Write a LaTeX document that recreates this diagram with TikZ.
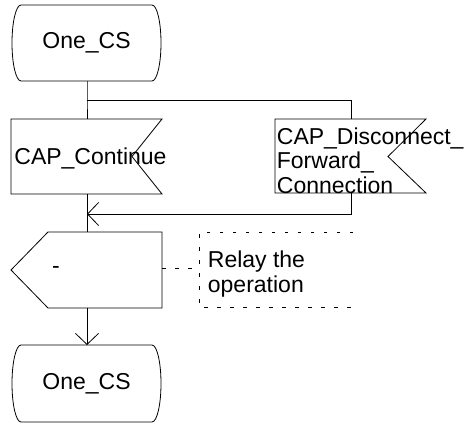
\documentclass[tikz,border=0pt]{standalone}
\usepackage{fontspec}
\setmainfont{Liberation Sans}
\usetikzlibrary{arrows.meta}
\begin{document}
\begin{tikzpicture}[x=1pt,y=1pt,
  line width=0.8pt,
  lbl/.style={inner sep=0pt, font=\fontsize{23}{24.5}\selectfont},
  flow/.style={draw, line width=0.8pt},
  arr/.style={flow, -{Straight Barb[length=11pt,width=23pt,line width=0.8pt]}},
  cmt/.style={draw, line width=0.8pt, dash pattern=on 3.5pt off 9.5pt},
]
\useasboundingbox (0,0) rectangle (468,424);

% top state
\draw (21,419) -- (152,419) arc[start angle=90,end angle=-90,x radius=9,y radius=38]
      -- (21,343) arc[start angle=270,end angle=90,x radius=9,y radius=38] -- cycle;
\node[lbl] (s1) at (86.5,381) {One\_CS};
\coordinate (s1b) at (87,343);
\coordinate (br) at (87,324);
\coordinate (brR) at (351,324);

% CAP_Continue input
\draw (11,305) -- (162,305) -- (132,267.5) -- (162,230) -- (11,230) -- cycle;
\node[lbl, anchor=base west] (in1) at (14,260) {CAP\_Continue};
\coordinate (in1t) at (87,305);
\coordinate (in1b) at (87,230);

% right input
\draw (275,305) -- (426,305) -- (388,267.5) -- (426,231) -- (275,231) -- cycle;
\node[lbl, anchor=base west, align=left] (in2) at (276.5,231) {CAP\_Disconnect\_\\Forward\_\\Connection};
\coordinate (in2t) at (351,305);
\coordinate (in2b) at (351,231);
\coordinate (ret) at (351,210);
\coordinate (merge) at (87,210);

% output
\draw (48,192) -- (162,192) -- (162,116) -- (48,116) -- (11,154) -- cycle;
\node[lbl] (out) at (56,154) {-};
\coordinate (outt) at (87,192);
\coordinate (outb) at (87,116);
\coordinate (outR) at (162,156);

% comment
\coordinate (cL) at (199,156);
\draw[cmt] (353,192) -- (199,192) -- (199,117) -- (353,117);
\node[lbl, anchor=base west, align=left] (note) at (207.5,132) {Relay the\\operation};

% bottom state
\draw (21,79) -- (152,79) arc[start angle=90,end angle=-90,x radius=9,y radius=38.5]
      -- (21,2) arc[start angle=270,end angle=90,x radius=9,y radius=38.5] -- cycle;
\node[lbl] (s2) at (86.5,40.5) {One\_CS};
\coordinate (s2t) at (87,79);

% connectors
\draw[flow] (s1b) -- (br) -- (in1t);
\draw[flow] (br) -- (brR) -- (in2t);
\draw[flow] (in1b) -- (outt);
\draw[arr] (in2b) -- (ret) -- (merge);
\draw[arr] (outb) -- (s2t);
\draw[cmt] (outR) -- (cL);
\end{tikzpicture}
\end{document}
